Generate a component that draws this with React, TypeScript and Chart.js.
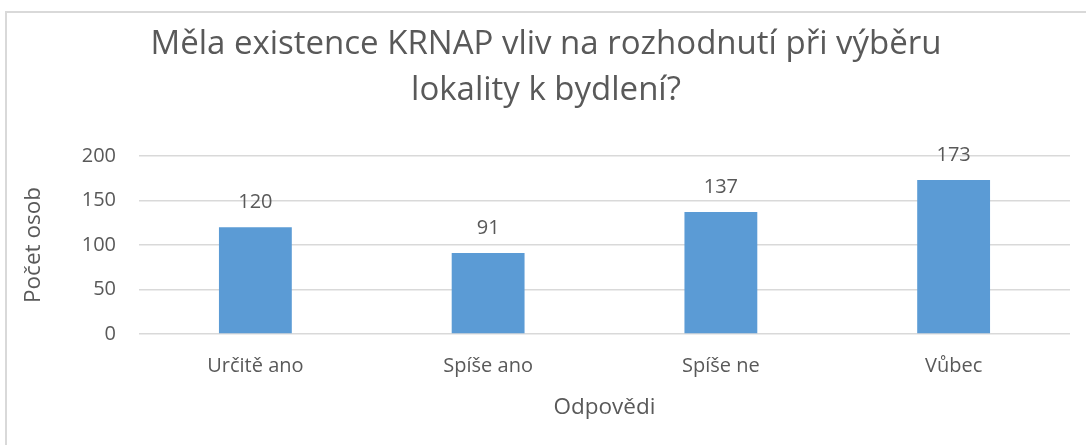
import React, { useEffect, useRef } from "react";
import { Chart, registerables } from "chart.js";

Chart.register(...registerables);

const titleLines = ["Měla existence KRNAP vliv na rozhodnutí při výběru", "lokality k bydlení?"];
const categories = ["Určitě ano", "Spíše ano", "Spíše ne", "Vůbec"];
const values = [120, 91, 137, 173];
const yTicks = [0, 50, 100, 150, 200];
const yAxisTitle = "Počet osob";
const xAxisTitle = "Odpovědi";

const FONT = "'Open Sans', sans-serif";
const TEXT = "#595959";

const overlayPlugin = {
  id: "overlay",
  afterDraw(chart: any) {
    const ctx = chart.ctx;
    ctx.save();
    // title
    ctx.fillStyle = TEXT;
    ctx.font = `33px ${FONT}`;
    ctx.textAlign = "center";
    ctx.textBaseline = "alphabetic";
    ctx.fillText(titleLines[0], 546, 54);
    ctx.fillText(titleLines[1], 546, 100);
    // data labels
    const meta = chart.getDatasetMeta(0);
    ctx.font = `20px ${FONT}`;
    ctx.textBaseline = "middle";
    meta.data.forEach((bar: any, i: number) => {
      ctx.fillText(String(values[i]), bar.x, bar.y - 25);
    });
    ctx.restore();
  },
};

export default function App() {
  const ref = useRef<HTMLCanvasElement>(null);
  useEffect(() => {
    document.body.style.margin = "0";
    const chart = new Chart(ref.current!, {
      type: "bar",
      data: {
        labels: categories,
        datasets: [
          {
            data: values,
            backgroundColor: "#5B9BD5",
            borderWidth: 0,
            barPercentage: 0.313,
            categoryPercentage: 1,
          },
        ],
      },
      options: {
        animation: false,
        responsive: false,
        layout: { padding: { left: 20, right: 16, top: 156, bottom: 20 } },
        plugins: { legend: { display: false }, tooltip: { enabled: false }, title: { display: false } },
        scales: {
          x: {
            grid: { display: false, drawTicks: false },
            border: { display: false },
            ticks: { color: TEXT, font: { family: FONT, size: 20 }, padding: 20, maxRotation: 0 },
            title: { display: true, text: xAxisTitle, color: TEXT, font: { family: FONT, size: 22.5 }, padding: { top: 0, bottom: 4 } },
            afterFit(scale: any) {
              scale.height = 91;
            },
          },
          y: {
            min: 0,
            max: 200,
            afterBuildTicks(scale: any) {
              scale.ticks = yTicks.map((v) => ({ value: v }));
            },
            grid: { color: "#d9d9d9", lineWidth: 1.5, drawTicks: false },
            border: { display: false },
            ticks: { color: TEXT, font: { family: FONT, size: 20 }, padding: 23 },
            title: { display: true, text: yAxisTitle, color: TEXT, font: { family: FONT, size: 22.5 }, padding: { top: 0, bottom: 0 } },
            afterFit(scale: any) {
              scale.width = 119;
            },
          },
        },
      },
      plugins: [overlayPlugin],
    });
    return () => chart.destroy();
  }, []);
  return (
    <div style={{ position: "relative", width: 1086, height: 445, overflow: "hidden", background: "#fff" }}>
      <div
        style={{
          position: "absolute",
          left: 5,
          top: 11,
          width: 1200,
          height: 600,
          border: "2px solid #d9d9d9",
          boxSizing: "border-box",
        }}
      />
      <canvas ref={ref} width={1086} height={445} style={{ position: "absolute", left: 0, top: 0, display: "block" }} />
    </div>
  );
}
